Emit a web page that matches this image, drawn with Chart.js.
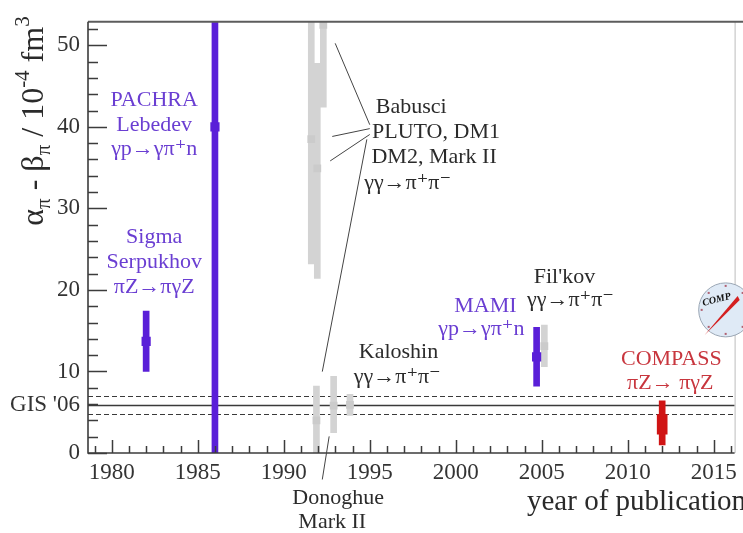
<!DOCTYPE html>
<html>
<head>
<meta charset="utf-8">
<script src="https://cdn.jsdelivr.net/npm/chart.js@4.4.1/dist/chart.umd.min.js"></script>
<style>
  html, body { margin: 0; padding: 0; background: #fff; }
</style>
</head>
<body>
<canvas id="chart" width="743" height="533"></canvas>
<script>
// values (alpha - beta in 1e-4 fm^3)
const greyYears  = [1991.6, 1991.95, 1992.3, 1991.9, 1992.9, 1993.85, 2005.15];
const greyValues = [38.5, 34.9, 52.5, 4.0, 5.8, 5.9, 13.1];
const greyLow    = [23.2, 21.4, 42.4, 0.0, 2.5, 4.6, 10.6];
const greyHigh   = [60.0, 47.8, 65.0, 8.2, 9.4, 7.2, 15.7];

const blueYears  = [1982, 1986, 2004.7];
const blueValues = [13.7, 40.0, 11.8];
const blueLow    = [10.0, 0.0, 8.2];
const blueHigh   = [17.4, 64.0, 15.4];

const compassYears   = [2012];
const compassValues  = [3.6];
const compassStatLow = [2.3];
const compassStatHigh = [4.7];
const compassTotLow  = [1.0];
const compassTotHigh = [6.4];

const gisBand = [4.8, 5.9, 7.0];   // lower, central, upper

const yTickValues = [0, 10, 20, 30, 40, 50];
const xTickValues = [1980, 1985, 1990, 1995, 2000, 2005, 2010, 2015];

const SERIF = "'Liberation Serif', 'DejaVu Serif', serif";
const PURPLE = '#6a3ed2';
const DARK = '#2b2b2b';
const RED = '#c8363e';

const toBars = (xs, lo, hi) => xs.map((x, i) => ({ x, y: [lo[i], hi[i]] }));
const toPoints = (xs, ys) => xs.map((x, i) => ({ x, y: ys[i] }));

// text blocks, in data units of the axes
const notes = [
  { color: PURPLE, items: [['PACHRA', 1982.47, 43.27], ['Lebedev', 1982.47, 40.2], ['γp→γπ⁺n', 1982.47, 37.2]] },
  { color: PURPLE, items: [['Sigma', 1982.47, 26.5], ['Serpukhov', 1982.47, 23.4], ['πZ→πγZ', 1982.47, 20.3]] },
  { color: DARK, items: [['Babusci', 1997.41, 42.4], ['PLUTO, DM1', 1998.85, 39.4], ['DM2, Mark II', 1998.74, 36.3], ['γγ→π⁺π⁻', 1997.2, 33.1]] },
  { color: DARK, items: [['Kaloshin', 1996.67, 12.4], ['γγ→π⁺π⁻', 1996.6, 9.25]] },
  { color: DARK, items: [['Donoghue', 1993.16, -5.5], ['Mark II', 1992.82, -8.5]] },
  { color: DARK, items: [["Fil'kov", 2006.32, 21.6], ['γγ→π⁺π⁻', 2006.67, 18.75]] },
  { color: PURPLE, items: [['MAMI', 2001.72, 18.0], ['γp→γπ⁺n', 2001.49, 15.2]] },
  { color: RED, items: [['COMPASS', 2012.53, 11.5], ['πZ→ πγZ', 2012.47, 8.5]] }
];

const leaders = [
  [1992.99, 50.24, 1995.0, 40.26],
  [1992.82, 38.82, 1995.0, 39.78],
  [1992.70, 35.82, 1995.0, 39.06],
  [1994.83, 38.46, 1992.24, 9.98],
  [1992.64, 2.04, 1992.24, -3.25]
];

const decor = {
  id: 'decor',
  beforeDatasetsDraw(chart) {
    const { ctx, chartArea: a, scales: { y } } = chart;
    ctx.save();
    gisBand.forEach((v, i) => {
      const py = Math.round(y.getPixelForValue(v)) + 0.5;
      ctx.beginPath();
      ctx.setLineDash(i === 1 ? [] : [5, 3]);
      ctx.lineWidth = i === 1 ? 1.5 : 1.2;
      ctx.strokeStyle = '#3a3a3a';
      ctx.moveTo(a.left, py);
      ctx.lineTo(a.right, py);
      ctx.stroke();
    });
    ctx.restore();
  },
  afterDatasetsDraw(chart) {
    const { ctx, chartArea: a, scales: { x, y } } = chart;
    ctx.save();

    // frame
    ctx.strokeStyle = '#bdbdbd';
    ctx.lineWidth = 1;
    ctx.beginPath();
    ctx.moveTo(a.right + 0.5, a.top);
    ctx.lineTo(a.right + 0.5, a.bottom);
    ctx.stroke();
    ctx.strokeStyle = '#5c5c5c';
    ctx.lineWidth = 2;
    ctx.beginPath();
    ctx.moveTo(a.left, a.top);
    ctx.lineTo(chart.width, a.top);
    ctx.stroke();
    ctx.strokeStyle = '#3c3c3c';
    ctx.lineWidth = 1.6;
    ctx.beginPath();
    ctx.moveTo(a.left, a.top);
    ctx.lineTo(a.left, a.bottom);
    ctx.lineTo(a.right, a.bottom);
    ctx.stroke();

    // inward ticks
    ctx.lineWidth = 1.5;
    ctx.beginPath();
    for (let v = 0; v <= y.max; v += 2) {
      const py = Math.round(y.getPixelForValue(v)) + 0.5;
      ctx.moveTo(a.left, py);
      ctx.lineTo(a.left + (v % 10 === 0 ? 19 : 10), py);
    }
    for (let yr = Math.ceil(x.min); yr <= x.max; yr++) {
      const px = Math.round(x.getPixelForValue(yr)) + 0.5;
      ctx.moveTo(px, a.bottom);
      ctx.lineTo(px, a.bottom - (yr % 5 === 0 ? 13 : 7));
    }
    ctx.stroke();

    // leader lines
    ctx.strokeStyle = '#444';
    ctx.lineWidth = 1;
    ctx.beginPath();
    leaders.forEach(([x0, y0, x1, y1]) => {
      ctx.moveTo(x.getPixelForValue(x0), y.getPixelForValue(y0));
      ctx.lineTo(x.getPixelForValue(x1), y.getPixelForValue(y1));
    });
    ctx.stroke();

    // labels
    ctx.font = `22px ${SERIF}`;
    ctx.textAlign = 'center';
    ctx.textBaseline = 'middle';
    notes.forEach(n => {
      ctx.fillStyle = n.color;
      n.items.forEach(([t, xv, yv]) => ctx.fillText(t, x.getPixelForValue(xv), y.getPixelForValue(yv)));
    });

    // COMPASS logo
    const cx = x.getPixelForValue(2015.69), cy = y.getPixelForValue(17.55), r = 27;
    ctx.beginPath();
    ctx.arc(cx, cy, r, 0, Math.PI * 2);
    ctx.fillStyle = '#dfeaf6';
    ctx.fill();
    ctx.strokeStyle = '#9aa6b4';
    ctx.lineWidth = 1;
    ctx.stroke();
    ctx.fillStyle = '#b06070';
    for (let k = 0; k < 8; k++) {
      const ang = k * Math.PI / 4;
      ctx.fillRect(cx + Math.cos(ang) * (r - 3) - 1, cy + Math.sin(ang) * (r - 3) - 1, 2, 2);
    }
    ctx.fillStyle = '#d42020';
    ctx.beginPath();
    ctx.moveTo(cx - 21, cy + 25);
    ctx.lineTo(cx + 12, cy - 14);
    ctx.lineTo(cx + 14, cy - 10);
    ctx.closePath();
    ctx.fill();
    ctx.save();
    ctx.translate(cx - 9, cy - 10);
    ctx.rotate(-0.25);
    ctx.fillStyle = '#111';
    ctx.font = `italic bold 10px ${SERIF}`;
    ctx.textAlign = 'center';
    ctx.fillText('COMP', 0, 0);
    ctx.restore();

    // x title
    ctx.fillStyle = '#2a2a2a';
    ctx.font = `29px ${SERIF}`;
    ctx.textAlign = 'left';
    ctx.textBaseline = 'alphabetic';
    ctx.fillText('year of publication', 527, 510);

    // y title with sub/superscripts
    const parts = [['α', 0], ['π', 1], [' - β', 0], ['π', 1], [' / 10', 0], ['-4', 2], [' fm', 0], ['3', 2]];
    const big = `32px ${SERIF}`, small = `21px ${SERIF}`;
    let total = 0;
    parts.forEach(([t, k]) => { ctx.font = k ? small : big; total += ctx.measureText(t).width; });
    ctx.translate(43, 121);
    ctx.rotate(-Math.PI / 2);
    let pos = -total / 2;
    parts.forEach(([t, k]) => {
      ctx.font = k ? small : big;
      ctx.fillText(t, pos, k === 1 ? 7 : k === 2 ? -14 : 0);
      pos += ctx.measureText(t).width;
    });
    ctx.restore();
  }
};

const barBase = { type: 'bar', stack: 'e', borderWidth: 0, grouped: true, order: 2 };

new Chart(document.getElementById('chart'), {
  type: 'bar',
  data: {
    datasets: [
      { ...barBase, data: toBars(greyYears, greyLow, greyHigh), backgroundColor: '#d3d3d3', barThickness: 6 },
      { ...barBase, data: toBars(blueYears, blueLow, blueHigh), backgroundColor: '#5a1fd8', barThickness: 6 },
      { ...barBase, data: toBars(compassYears, compassTotLow, compassTotHigh), backgroundColor: '#d01414', barThickness: 6 },
      { ...barBase, data: toBars(compassYears, compassStatLow, compassStatHigh), backgroundColor: '#d01414', barThickness: 10 },
      { type: 'scatter', order: 0, data: toPoints(greyYears, greyValues), pointStyle: 'rect', pointRadius: 5.5,
        backgroundColor: '#cbcbcb', borderColor: '#cbcbcb', borderWidth: 0 },
      { type: 'scatter', order: 0, data: toPoints(blueYears, blueValues), pointStyle: 'rect', pointRadius: 6.5,
        backgroundColor: '#5a1fd8', borderColor: '#5a1fd8', borderWidth: 0 }
    ]
  },
  options: {
    responsive: false,
    animation: false,
    layout: { padding: { top: 13, right: 1, left: 0, bottom: 0 } },
    plugins: { legend: { display: false }, tooltip: { enabled: false } },
    scales: {
      x: {
        type: 'linear',
        offset: false,
        min: 1978.62,
        max: 2016.21,
        afterBuildTicks: s => { s.ticks = xTickValues.map(v => ({ value: v })); },
        afterFit: s => { s.height = 80; },
        grid: { display: false, drawTicks: false },
        border: { display: false },
        ticks: {
          autoSkip: false, maxRotation: 0, padding: 6, color: '#333',
          font: { family: SERIF, size: 23 },
          callback: v => String(v)
        }
      },
      y: {
        type: 'linear',
        stacked: false,
        min: 0,
        max: 52.88,
        afterBuildTicks: s => { s.ticks = [...yTickValues, gisBand[1]].map(v => ({ value: v })); },
        afterFit: s => { s.width = 88; },
        grid: { display: false, drawTicks: false },
        border: { display: false },
        ticks: {
          autoSkip: false, padding: 8, color: '#333',
          font: { family: SERIF, size: 23 },
          callback: v => (v === gisBand[1] ? "GIS '06" : String(v))
        }
      }
    }
  },
  plugins: [decor]
});
</script>
</body>
</html>
